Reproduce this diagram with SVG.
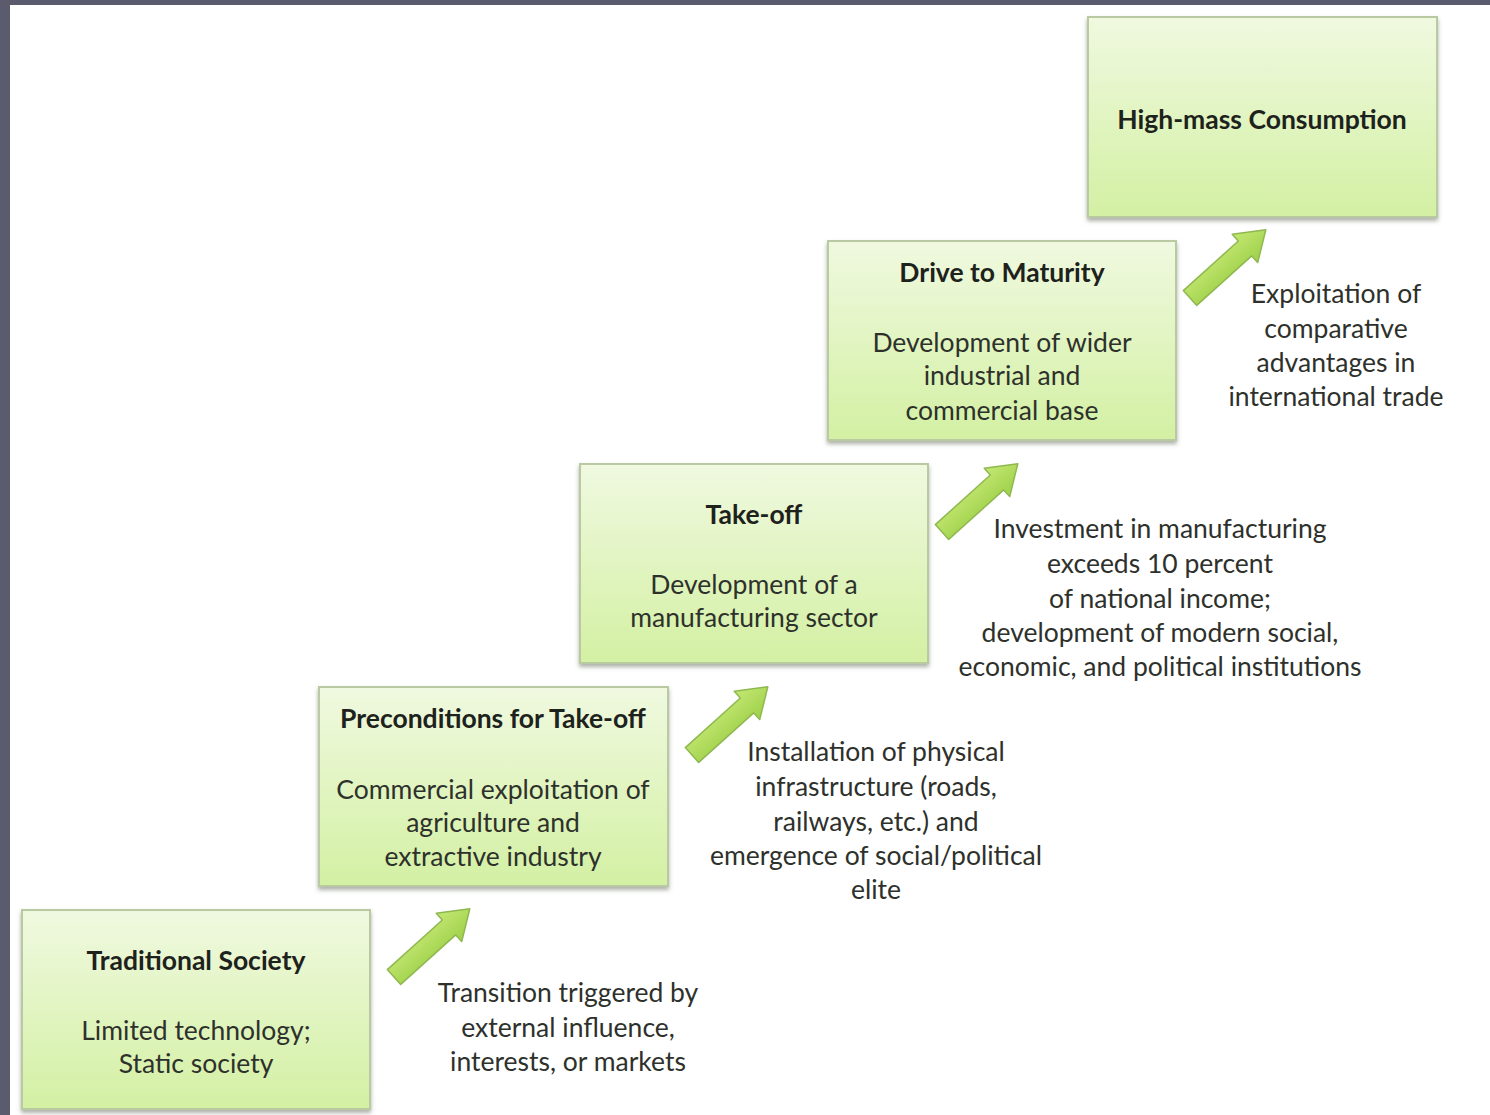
<svg xmlns="http://www.w3.org/2000/svg" width="1490" height="1115" viewBox="0 0 1490 1115">
<defs>
<linearGradient id="boxg" x1="0" y1="0" x2="0" y2="1">
<stop offset="0" stop-color="#f0f9e0"/>
<stop offset="1" stop-color="#d3f0a3"/>
</linearGradient>
<linearGradient id="arrg" x1="0" y1="0" x2="0" y2="1">
<stop offset="0" stop-color="#c4e874"/>
<stop offset="1" stop-color="#9ed048"/>
</linearGradient>
<filter id="sh" x="-5%" y="-5%" width="110%" height="115%">
<feDropShadow dx="0" dy="3" stdDeviation="2" flood-color="#6a7060" flood-opacity="0.55"/>
</filter>
<polygon id="arr" points="0,-10 74,-10 74,-19 102,0 74,19 74,10 0,10" fill="url(#arrg)" stroke="#8fb850" stroke-width="1.5" stroke-linejoin="round"/>
</defs>
<style>
.box{fill:url(#boxg);stroke:#b9c9a2;stroke-width:2;filter:url(#sh)}
text{font-family:Lato,"Open Sans","Liberation Sans",sans-serif;font-size:26.5px;fill:#2e312b;text-anchor:middle}
.t{font-weight:bold;fill:#1e221c}
</style>
<rect width="1490" height="1115" fill="#ffffff"/>
<rect x="0" y="0" width="1490" height="5" fill="#5a5c6e"/>
<rect x="0" y="0" width="10" height="1115" fill="#5a5c6e"/>

<g id="connectors">
<use href="#arr" transform="translate(394,977) rotate(-42)"/>
<use href="#arr" transform="translate(692,755) rotate(-42)"/>
<use href="#arr" transform="translate(942,532) rotate(-42)"/>
<use href="#arr" transform="translate(1190,298) rotate(-42)"/>
</g>

<g id="traditional-society">
<rect class="box" x="22" y="910" width="348" height="199"/>
<text class="t" x="196" y="970">Traditional Society</text>
<text x="196" y="1040">Limited technology;</text>
<text x="196" y="1073">Static society</text>
</g>
<g id="label-1">
<text x="568" y="1002">Transition triggered by</text>
<text x="568" y="1037">external influence,</text>
<text x="568" y="1071">interests, or markets</text>
</g>

<g id="preconditions">
<rect class="box" x="319" y="687" width="349" height="199"/>
<text class="t" x="493" y="728">Preconditions for Take-off</text>
<text x="493" y="799">Commercial exploitation of</text>
<text x="493" y="832">agriculture and</text>
<text x="493" y="866">extractive industry</text>
</g>
<g id="label-2">
<text x="876" y="761">Installation of physical</text>
<text x="876" y="796">infrastructure (roads,</text>
<text x="876" y="831">railways, etc.) and</text>
<text x="876" y="865">emergence of social/political</text>
<text x="876" y="899">elite</text>
</g>

<g id="take-off">
<rect class="box" x="580" y="464" width="348" height="199"/>
<text class="t" x="754" y="524">Take-off</text>
<text x="754" y="594">Development of a</text>
<text x="754" y="627">manufacturing sector</text>
</g>
<g id="label-3">
<text x="1160" y="538">Investment in manufacturing</text>
<text x="1160" y="573">exceeds 10 percent</text>
<text x="1160" y="608">of national income;</text>
<text x="1160" y="642">development of modern social,</text>
<text x="1160" y="676">economic, and political institutions</text>
</g>

<g id="drive-to-maturity">
<rect class="box" x="828" y="241" width="348" height="199"/>
<text class="t" x="1002" y="282">Drive to Maturity</text>
<text x="1002" y="352">Development of wider</text>
<text x="1002" y="385">industrial and</text>
<text x="1002" y="420">commercial base</text>
</g>
<g id="label-4">
<text x="1336" y="303">Exploitation of</text>
<text x="1336" y="338">comparative</text>
<text x="1336" y="372">advantages in</text>
<text x="1336" y="406">international trade</text>
</g>

<g id="high-mass-consumption">
<rect class="box" x="1088" y="17" width="349" height="200"/>
<text class="t" x="1262" y="129">High-mass Consumption</text>
</g>
</svg>
